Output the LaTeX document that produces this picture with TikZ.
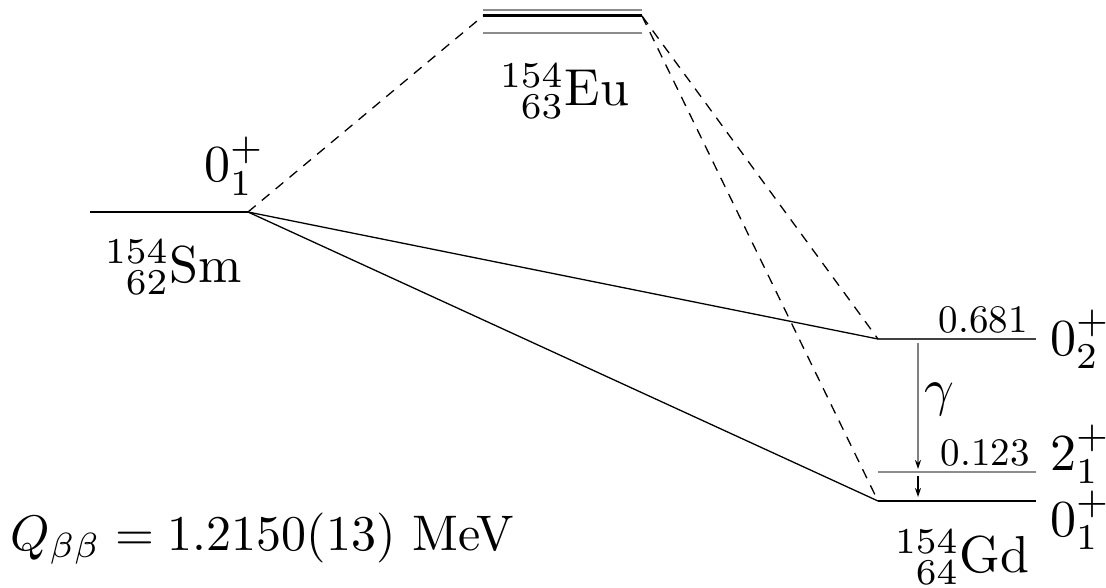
\documentclass[tikz,border=0pt]{standalone}
\usepackage{graphicx}
\usetikzlibrary{arrows.meta}
\newcommand{\lbltext}[1]{\scalebox{5.2}{#1}}
\newcommand{\qtext}[1]{\scalebox{5.0}{#1}}
\newcommand{\numtext}[1]{\scalebox{3.9}{#1}}
\begin{document}
\begin{tikzpicture}[x=1pt,y=-1pt,
  lbl/.style={inner sep=0pt},
  level/.style={line width=1.5pt},
  glevel/.style={line width=1.5pt, black!45},
  decay/.style={line width=1.3pt},
  ddecay/.style={line width=1.3pt, dash pattern=on 10pt off 8pt},
  tip/.style={-{Stealth[length=9pt,width=6pt,black]}}]
\useasboundingbox (0,0) rectangle (1106,588);
% level end points
\coordinate (SmL) at (90,212);
\coordinate (SmR) at (248,212);
\coordinate (EuL) at (483,16);
\coordinate (EuR) at (642,16);
\coordinate (EuAL) at (483,10);
\coordinate (EuAR) at (642,10);
\coordinate (EuBL) at (483,33);
\coordinate (EuBR) at (642,33);
\coordinate (G2L) at (878,339);
\coordinate (G2R) at (1036,339);
\coordinate (G21L) at (878,472);
\coordinate (G21R) at (1036,472);
\coordinate (G0L) at (878,501);
\coordinate (G0R) at (1036,501);
\coordinate (GamA) at (918,343);
\coordinate (GamB) at (918,469);
\coordinate (GamC) at (918,476);
\coordinate (GamD) at (918,497);
% levels
\draw[level] (SmL) -- (SmR);
\draw[glevel] (EuAL) -- (EuAR);
\draw[line width=3pt] (EuL) -- (EuR);
\draw[glevel] (EuBL) -- (EuBR);
\draw[level, black!75] (G2L) -- (G2R);
\draw[glevel] (G21L) -- (G21R);
\draw[level] (G0L) -- (G0R);
% transitions
\draw[ddecay] (SmR) -- (EuL);
\draw[ddecay] (EuR) -- (G2L);
\draw[ddecay] (EuR) -- (G0L);
\draw[decay] (SmR) -- (G2L);
\draw[decay] (SmR) -- (G0L);
\draw[line width=1.3pt, black!50, tip] (GamA) -- (GamB);
\draw[line width=1.3pt, tip] (GamC) -- (GamD);
% labels
\node[lbl, anchor=base west] (smspin) at (204,182) {\lbltext{$0_1^+$}};
\node[lbl, anchor=base west] (smname) at (105,282) {\lbltext{${}^{154}_{\phantom{1}62}\mathrm{Sm}$}};
\node[lbl, anchor=base west] (euname) at (500,106) {\lbltext{${}^{154}_{\phantom{1}63}\mathrm{Eu}$}};
\node[lbl, anchor=base east] (e681) at (1028,332) {\numtext{0.681}};
\node[lbl, anchor=base west] (s02) at (1050,355) {\lbltext{$0_2^+$}};
\node[lbl, anchor=base west] (gam) at (924,405) {\lbltext{$\gamma$}};
\node[lbl, anchor=base east] (e123) at (1030,465) {\numtext{0.123}};
\node[lbl, anchor=base west] (s21) at (1050,470) {\lbltext{$2_1^+$}};
\node[lbl, anchor=base west] (s01) at (1050,536) {\lbltext{$0_1^+$}};
\node[lbl, anchor=base west] (gdname) at (895,572) {\lbltext{${}^{154}_{\phantom{1}64}\mathrm{Gd}$}};
\node[lbl, anchor=base west] (q) at (10,550) {\qtext{$Q_{\beta\beta} = 1.2150(13)$ MeV}};
\end{tikzpicture}
\end{document}
